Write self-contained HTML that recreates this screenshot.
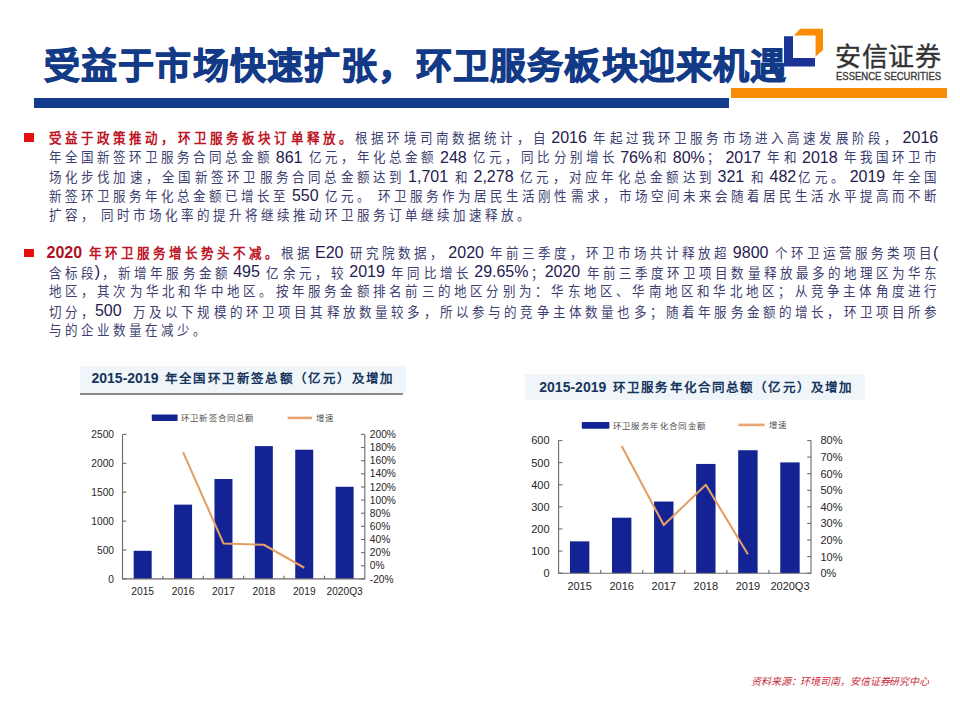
<!DOCTYPE html>
<html lang="zh-CN"><head><meta charset="utf-8">
<style>
html,body{margin:0;padding:0}
body{width:960px;height:720px;background:#fff;position:relative;overflow:hidden;font-family:"Liberation Sans",sans-serif;font-kerning:none}
.a{position:absolute;white-space:nowrap}
.k{display:inline-block;text-align:center}
.t{white-space:pre}
#title{left:43.2px;top:43px;font-size:36px;font-weight:bold;-webkit-text-stroke:1.1px #133a87;color:#133a87;line-height:48px;display:flex}
#bluebar{left:34px;top:98px;width:695px;height:10px;background:#133d8c}
#orangebar{left:731px;top:88px;width:216px;height:9.7px;background:#f98d06}
#logocn{left:835px;top:41px;font-size:26px;line-height:32px;color:#333;-webkit-text-stroke:0.4px #333;display:flex}
#logoen{left:836px;top:69.6px;font-size:10.5px;line-height:12px;font-weight:normal;-webkit-text-stroke:0.35px #3a3a3a;transform:scaleX(0.905);color:#3a3a3a;transform-origin:0 0}
.ln{position:absolute;left:46.5px;width:892px;height:20px;display:flex;justify-content:space-between;align-items:baseline;font-size:16px;line-height:20px;color:#1f2050;white-space:nowrap}
.ln .c{display:block;width:16px;text-align:center;font-size:13.6px;position:relative;top:0.4px;transform:scaleX(0.92);color:#3d4070}
.ln.lst{justify-content:flex-start}
.ln.p1 .c{top:-0.5px}
.ln.lst .c{width:16.02px}
.ln .r{color:#b20f22;font-weight:bold}
.ln .c.r{color:#bd1426}
.bul{position:absolute;left:24px;width:10px;height:8.6px;background:#e50f0f}
.ctb{position:absolute;background:#eff5f8}
.ctt{position:absolute;display:flex;align-items:baseline;font-size:14px;line-height:18px;font-weight:bold;color:#17365d;white-space:nowrap}
.ctt .k{font-size:12.5px}
.leg{position:absolute;display:flex;font-size:8.4px;line-height:11px;color:#505050;white-space:nowrap}
#foot{left:751px;top:675px;font-size:10px;line-height:13px;font-style:italic;color:#c72a3c;display:flex}
svg{position:absolute;left:0;top:0}
svg text{font-family:"Liberation Sans",sans-serif}
</style></head><body>
<div class="a" id="title"><span class="k" style="width:37.20px">受</span><span class="k" style="width:37.20px">益</span><span class="k" style="width:37.20px">于</span><span class="k" style="width:37.20px">市</span><span class="k" style="width:37.20px">场</span><span class="k" style="width:37.20px">快</span><span class="k" style="width:37.20px">速</span><span class="k" style="width:37.20px">扩</span><span class="k" style="width:37.20px">张</span><span class="k" style="width:37.20px">，</span><span class="k" style="width:37.20px">环</span><span class="k" style="width:37.20px">卫</span><span class="k" style="width:37.20px">服</span><span class="k" style="width:37.20px">务</span><span class="k" style="width:37.20px">板</span><span class="k" style="width:37.20px">块</span><span class="k" style="width:37.20px">迎</span><span class="k" style="width:37.20px">来</span><span class="k" style="width:37.20px">机</span><span class="k" style="width:37.20px">遇</span></div>
<div class="a" id="bluebar"></div>
<div class="a" id="orangebar"></div>
<svg width="960" height="720" viewBox="0 0 960 720">
<polygon points="784,36.3 793,36.3 793,58 815,58 815,66.6 784,66.6" fill="#1c3396"/>
<polygon points="793.8,35.6 800.3,28.8 823,28.8 823,50 815.6,56.6 815.6,35.6" fill="#f98d06"/>
<rect x="133.69" y="550.81" width="18.00" height="28.09" fill="#132394"/>
<rect x="174.07" y="504.63" width="18.00" height="74.27" fill="#132394"/>
<rect x="214.46" y="479.02" width="18.00" height="99.88" fill="#132394"/>
<rect x="254.84" y="446.13" width="18.00" height="132.77" fill="#132394"/>
<rect x="295.23" y="449.72" width="18.00" height="129.18" fill="#132394"/>
<rect x="335.61" y="486.77" width="18.00" height="92.13" fill="#132394"/>
<path d="M122.50 434.40V578.90H364.80V434.40" fill="none" stroke="#6b6b6b" stroke-width="1.1"/>
<path d="M122.50 578.90h3.8" stroke="#6b6b6b" stroke-width="1.1"/>
<text x="114.00" y="582.57" font-size="10.2" text-anchor="end" fill="#262626">0</text>
<path d="M122.50 550.00h3.8" stroke="#6b6b6b" stroke-width="1.1"/>
<text x="114.00" y="553.67" font-size="10.2" text-anchor="end" fill="#262626">500</text>
<path d="M122.50 521.10h3.8" stroke="#6b6b6b" stroke-width="1.1"/>
<text x="114.00" y="524.77" font-size="10.2" text-anchor="end" fill="#262626">1000</text>
<path d="M122.50 492.20h3.8" stroke="#6b6b6b" stroke-width="1.1"/>
<text x="114.00" y="495.87" font-size="10.2" text-anchor="end" fill="#262626">1500</text>
<path d="M122.50 463.30h3.8" stroke="#6b6b6b" stroke-width="1.1"/>
<text x="114.00" y="466.97" font-size="10.2" text-anchor="end" fill="#262626">2000</text>
<path d="M122.50 434.40h3.8" stroke="#6b6b6b" stroke-width="1.1"/>
<text x="114.00" y="438.07" font-size="10.2" text-anchor="end" fill="#262626">2500</text>
<path d="M364.80 578.90h-3.8" stroke="#6b6b6b" stroke-width="1.1"/>
<text x="369.80" y="582.57" font-size="10.2" fill="#262626">-20%</text>
<path d="M364.80 565.76h-3.8" stroke="#6b6b6b" stroke-width="1.1"/>
<text x="369.80" y="569.44" font-size="10.2" fill="#262626">0%</text>
<path d="M364.80 552.63h-3.8" stroke="#6b6b6b" stroke-width="1.1"/>
<text x="369.80" y="556.30" font-size="10.2" fill="#262626">20%</text>
<path d="M364.80 539.49h-3.8" stroke="#6b6b6b" stroke-width="1.1"/>
<text x="369.80" y="543.16" font-size="10.2" fill="#262626">40%</text>
<path d="M364.80 526.35h-3.8" stroke="#6b6b6b" stroke-width="1.1"/>
<text x="369.80" y="530.03" font-size="10.2" fill="#262626">60%</text>
<path d="M364.80 513.22h-3.8" stroke="#6b6b6b" stroke-width="1.1"/>
<text x="369.80" y="516.89" font-size="10.2" fill="#262626">80%</text>
<path d="M364.80 500.08h-3.8" stroke="#6b6b6b" stroke-width="1.1"/>
<text x="369.80" y="503.75" font-size="10.2" fill="#262626">100%</text>
<path d="M364.80 486.95h-3.8" stroke="#6b6b6b" stroke-width="1.1"/>
<text x="369.80" y="490.62" font-size="10.2" fill="#262626">120%</text>
<path d="M364.80 473.81h-3.8" stroke="#6b6b6b" stroke-width="1.1"/>
<text x="369.80" y="477.48" font-size="10.2" fill="#262626">140%</text>
<path d="M364.80 460.67h-3.8" stroke="#6b6b6b" stroke-width="1.1"/>
<text x="369.80" y="464.34" font-size="10.2" fill="#262626">160%</text>
<path d="M364.80 447.54h-3.8" stroke="#6b6b6b" stroke-width="1.1"/>
<text x="369.80" y="451.21" font-size="10.2" fill="#262626">180%</text>
<path d="M364.80 434.40h-3.8" stroke="#6b6b6b" stroke-width="1.1"/>
<text x="369.80" y="438.07" font-size="10.2" fill="#262626">200%</text>
<path d="M162.88 578.90v-3.2" stroke="#6b6b6b" stroke-width="1.1"/>
<path d="M203.27 578.90v-3.2" stroke="#6b6b6b" stroke-width="1.1"/>
<path d="M243.65 578.90v-3.2" stroke="#6b6b6b" stroke-width="1.1"/>
<path d="M284.03 578.90v-3.2" stroke="#6b6b6b" stroke-width="1.1"/>
<path d="M324.42 578.90v-3.2" stroke="#6b6b6b" stroke-width="1.1"/>
<text x="142.69" y="594.60" font-size="10.2" text-anchor="middle" fill="#262626">2015</text>
<text x="183.07" y="594.60" font-size="10.2" text-anchor="middle" fill="#262626">2016</text>
<text x="223.46" y="594.60" font-size="10.2" text-anchor="middle" fill="#262626">2017</text>
<text x="263.84" y="594.60" font-size="10.2" text-anchor="middle" fill="#262626">2018</text>
<text x="304.23" y="594.60" font-size="10.2" text-anchor="middle" fill="#262626">2019</text>
<text x="344.61" y="594.60" font-size="10.2" text-anchor="middle" fill="#262626">2020Q3</text>
<polyline points="183.07,452.13 223.46,543.43 263.84,544.75 304.23,567.73" fill="none" stroke="#e2a067" stroke-width="2.1" stroke-linejoin="round"/>
<rect x="569.93" y="541.35" width="19.40" height="31.85" fill="#132394"/>
<rect x="612.00" y="517.69" width="19.40" height="55.51" fill="#132394"/>
<rect x="654.07" y="501.54" width="19.40" height="71.66" fill="#132394"/>
<rect x="696.13" y="463.94" width="19.40" height="109.26" fill="#132394"/>
<rect x="738.20" y="450.23" width="19.40" height="122.97" fill="#132394"/>
<rect x="780.27" y="462.40" width="19.40" height="110.80" fill="#132394"/>
<path d="M558.60 440.50V573.20H811.00V440.50" fill="none" stroke="#6b6b6b" stroke-width="1.1"/>
<path d="M558.60 573.20h3.8" stroke="#6b6b6b" stroke-width="1.1"/>
<text x="549.60" y="577.16" font-size="11.0" text-anchor="end" fill="#262626">0</text>
<path d="M558.60 551.08h3.8" stroke="#6b6b6b" stroke-width="1.1"/>
<text x="549.60" y="555.04" font-size="11.0" text-anchor="end" fill="#262626">100</text>
<path d="M558.60 528.97h3.8" stroke="#6b6b6b" stroke-width="1.1"/>
<text x="549.60" y="532.93" font-size="11.0" text-anchor="end" fill="#262626">200</text>
<path d="M558.60 506.85h3.8" stroke="#6b6b6b" stroke-width="1.1"/>
<text x="549.60" y="510.81" font-size="11.0" text-anchor="end" fill="#262626">300</text>
<path d="M558.60 484.73h3.8" stroke="#6b6b6b" stroke-width="1.1"/>
<text x="549.60" y="488.69" font-size="11.0" text-anchor="end" fill="#262626">400</text>
<path d="M558.60 462.62h3.8" stroke="#6b6b6b" stroke-width="1.1"/>
<text x="549.60" y="466.58" font-size="11.0" text-anchor="end" fill="#262626">500</text>
<path d="M558.60 440.50h3.8" stroke="#6b6b6b" stroke-width="1.1"/>
<text x="549.60" y="444.46" font-size="11.0" text-anchor="end" fill="#262626">600</text>
<path d="M811.00 573.20h-3.8" stroke="#6b6b6b" stroke-width="1.1"/>
<text x="820.50" y="577.16" font-size="11.0" fill="#262626">0%</text>
<path d="M811.00 556.61h-3.8" stroke="#6b6b6b" stroke-width="1.1"/>
<text x="820.50" y="560.57" font-size="11.0" fill="#262626">10%</text>
<path d="M811.00 540.03h-3.8" stroke="#6b6b6b" stroke-width="1.1"/>
<text x="820.50" y="543.99" font-size="11.0" fill="#262626">20%</text>
<path d="M811.00 523.44h-3.8" stroke="#6b6b6b" stroke-width="1.1"/>
<text x="820.50" y="527.40" font-size="11.0" fill="#262626">30%</text>
<path d="M811.00 506.85h-3.8" stroke="#6b6b6b" stroke-width="1.1"/>
<text x="820.50" y="510.81" font-size="11.0" fill="#262626">40%</text>
<path d="M811.00 490.26h-3.8" stroke="#6b6b6b" stroke-width="1.1"/>
<text x="820.50" y="494.22" font-size="11.0" fill="#262626">50%</text>
<path d="M811.00 473.68h-3.8" stroke="#6b6b6b" stroke-width="1.1"/>
<text x="820.50" y="477.63" font-size="11.0" fill="#262626">60%</text>
<path d="M811.00 457.09h-3.8" stroke="#6b6b6b" stroke-width="1.1"/>
<text x="820.50" y="461.05" font-size="11.0" fill="#262626">70%</text>
<path d="M811.00 440.50h-3.8" stroke="#6b6b6b" stroke-width="1.1"/>
<text x="820.50" y="444.46" font-size="11.0" fill="#262626">80%</text>
<path d="M600.67 573.20v-3.2" stroke="#6b6b6b" stroke-width="1.1"/>
<path d="M642.73 573.20v-3.2" stroke="#6b6b6b" stroke-width="1.1"/>
<path d="M684.80 573.20v-3.2" stroke="#6b6b6b" stroke-width="1.1"/>
<path d="M726.87 573.20v-3.2" stroke="#6b6b6b" stroke-width="1.1"/>
<path d="M768.93 573.20v-3.2" stroke="#6b6b6b" stroke-width="1.1"/>
<text x="579.63" y="590.20" font-size="11.0" text-anchor="middle" fill="#262626">2015</text>
<text x="621.70" y="590.20" font-size="11.0" text-anchor="middle" fill="#262626">2016</text>
<text x="663.77" y="590.20" font-size="11.0" text-anchor="middle" fill="#262626">2017</text>
<text x="705.83" y="590.20" font-size="11.0" text-anchor="middle" fill="#262626">2018</text>
<text x="747.90" y="590.20" font-size="11.0" text-anchor="middle" fill="#262626">2019</text>
<text x="789.97" y="590.20" font-size="11.0" text-anchor="middle" fill="#262626">2020Q3</text>
<polyline points="621.70,445.97 663.77,525.10 705.83,484.79 747.90,554.29" fill="none" stroke="#e2a067" stroke-width="2.1" stroke-linejoin="round"/>
<rect x="151.8" y="414.5" width="25.8" height="6.6" rx="0.8" fill="#132394"/>
<path d="M287.6 417.9H312" stroke="#eaa572" stroke-width="2.6"/>
<rect x="581.8" y="422" width="27.6" height="6.8" rx="0.8" fill="#132394"/>
<path d="M738.4 424.9H764.6" stroke="#eaa572" stroke-width="2.6"/>
</svg>
<div class="a" id="logocn"><span class="k" style="width:26.60px">安</span><span class="k" style="width:26.60px">信</span><span class="k" style="width:26.60px">证</span><span class="k" style="width:26.60px">券</span></div>
<div class="a" id="logoen">ESSENCE SECURITIES</div>

<div class="bul" style="top:133.2px"></div>
<div class="bul" style="top:248.6px"></div>
<div class="ln p1" style="top:128.20px"><span class="c r">受</span><span class="c r">益</span><span class="c r">于</span><span class="c r">政</span><span class="c r">策</span><span class="c r">推</span><span class="c r">动</span><span class="c r">，</span><span class="c r">环</span><span class="c r">卫</span><span class="c r">服</span><span class="c r">务</span><span class="c r">板</span><span class="c r">块</span><span class="c r">订</span><span class="c r">单</span><span class="c r">释</span><span class="c r">放</span><span class="c r">。</span><span class="c">根</span><span class="c">据</span><span class="c">环</span><span class="c">境</span><span class="c">司</span><span class="c">南</span><span class="c">数</span><span class="c">据</span><span class="c">统</span><span class="c">计</span><span class="c">，</span><span class="c">自</span><span class="t"> 2016 </span><span class="c">年</span><span class="c">起</span><span class="c">过</span><span class="c">我</span><span class="c">环</span><span class="c">卫</span><span class="c">服</span><span class="c">务</span><span class="c">市</span><span class="c">场</span><span class="c">进</span><span class="c">入</span><span class="c">高</span><span class="c">速</span><span class="c">发</span><span class="c">展</span><span class="c">阶</span><span class="c">段</span><span class="c">，</span><span class="t"> 2016</span></div>
<div class="ln p1" style="top:147.60px"><span class="c">年</span><span class="c">全</span><span class="c">国</span><span class="c">新</span><span class="c">签</span><span class="c">环</span><span class="c">卫</span><span class="c">服</span><span class="c">务</span><span class="c">合</span><span class="c">同</span><span class="c">总</span><span class="c">金</span><span class="c">额</span><span class="t"> 861 </span><span class="c">亿</span><span class="c">元</span><span class="c">，</span><span class="c">年</span><span class="c">化</span><span class="c">总</span><span class="c">金</span><span class="c">额</span><span class="t"> 248 </span><span class="c">亿</span><span class="c">元</span><span class="c">，</span><span class="c">同</span><span class="c">比</span><span class="c">分</span><span class="c">别</span><span class="c">增</span><span class="c">长</span><span class="t"> 76%</span><span class="c">和</span><span class="t"> 80%</span><span class="c">；</span><span class="t"> 2017 </span><span class="c">年</span><span class="c">和</span><span class="t"> 2018 </span><span class="c">年</span><span class="c">我</span><span class="c">国</span><span class="c">环</span><span class="c">卫</span><span class="c">市</span></div>
<div class="ln p1" style="top:167.00px"><span class="c">场</span><span class="c">化</span><span class="c">步</span><span class="c">伐</span><span class="c">加</span><span class="c">速</span><span class="c">，</span><span class="c">全</span><span class="c">国</span><span class="c">新</span><span class="c">签</span><span class="c">环</span><span class="c">卫</span><span class="c">服</span><span class="c">务</span><span class="c">合</span><span class="c">同</span><span class="c">总</span><span class="c">金</span><span class="c">额</span><span class="c">达</span><span class="c">到</span><span class="t"> 1,701 </span><span class="c">和</span><span class="t"> 2,278 </span><span class="c">亿</span><span class="c">元</span><span class="c">，</span><span class="c">对</span><span class="c">应</span><span class="c">年</span><span class="c">化</span><span class="c">总</span><span class="c">金</span><span class="c">额</span><span class="c">达</span><span class="c">到</span><span class="t"> 321 </span><span class="c">和</span><span class="t"> 482</span><span class="c">亿</span><span class="c">元</span><span class="c">。</span><span class="t"> 2019 </span><span class="c">年</span><span class="c">全</span><span class="c">国</span></div>
<div class="ln p1" style="top:186.40px"><span class="c">新</span><span class="c">签</span><span class="c">环</span><span class="c">卫</span><span class="c">服</span><span class="c">务</span><span class="c">年</span><span class="c">化</span><span class="c">总</span><span class="c">金</span><span class="c">额</span><span class="c">已</span><span class="c">增</span><span class="c">长</span><span class="c">至</span><span class="t"> 550 </span><span class="c">亿</span><span class="c">元</span><span class="c">。</span><span class="t"> </span><span class="c">环</span><span class="c">卫</span><span class="c">服</span><span class="c">务</span><span class="c">作</span><span class="c">为</span><span class="c">居</span><span class="c">民</span><span class="c">生</span><span class="c">活</span><span class="c">刚</span><span class="c">性</span><span class="c">需</span><span class="c">求</span><span class="c">，</span><span class="c">市</span><span class="c">场</span><span class="c">空</span><span class="c">间</span><span class="c">未</span><span class="c">来</span><span class="c">会</span><span class="c">随</span><span class="c">着</span><span class="c">居</span><span class="c">民</span><span class="c">生</span><span class="c">活</span><span class="c">水</span><span class="c">平</span><span class="c">提</span><span class="c">高</span><span class="c">而</span><span class="c">不</span><span class="c">断</span></div>
<div class="ln p1 lst" style="top:205.80px"><span class="c">扩</span><span class="c">容</span><span class="c">，</span><span class="t"> </span><span class="c">同</span><span class="c">时</span><span class="c">市</span><span class="c">场</span><span class="c">化</span><span class="c">率</span><span class="c">的</span><span class="c">提</span><span class="c">升</span><span class="c">将</span><span class="c">继</span><span class="c">续</span><span class="c">推</span><span class="c">动</span><span class="c">环</span><span class="c">卫</span><span class="c">服</span><span class="c">务</span><span class="c">订</span><span class="c">单</span><span class="c">继</span><span class="c">续</span><span class="c">加</span><span class="c">速</span><span class="c">释</span><span class="c">放</span><span class="c">。</span></div>
<div class="ln" style="top:243.00px"><span class="t r">2020 </span><span class="c r">年</span><span class="c r">环</span><span class="c r">卫</span><span class="c r">服</span><span class="c r">务</span><span class="c r">增</span><span class="c r">长</span><span class="c r">势</span><span class="c r">头</span><span class="c r">不</span><span class="c r">减</span><span class="c r">。</span><span class="c">根</span><span class="c">据</span><span class="t"> E20 </span><span class="c">研</span><span class="c">究</span><span class="c">院</span><span class="c">数</span><span class="c">据</span><span class="c">，</span><span class="t"> 2020 </span><span class="c">年</span><span class="c">前</span><span class="c">三</span><span class="c">季</span><span class="c">度</span><span class="c">，</span><span class="c">环</span><span class="c">卫</span><span class="c">市</span><span class="c">场</span><span class="c">共</span><span class="c">计</span><span class="c">释</span><span class="c">放</span><span class="c">超</span><span class="t"> 9800 </span><span class="c">个</span><span class="c">环</span><span class="c">卫</span><span class="c">运</span><span class="c">营</span><span class="c">服</span><span class="c">务</span><span class="c">类</span><span class="c">项</span><span class="c">目</span><span class="t">(</span></div>
<div class="ln" style="top:262.40px"><span class="c">含</span><span class="c">标</span><span class="c">段</span><span class="t">)</span><span class="c">，</span><span class="c">新</span><span class="c">增</span><span class="c">年</span><span class="c">服</span><span class="c">务</span><span class="c">金</span><span class="c">额</span><span class="t"> 495 </span><span class="c">亿</span><span class="c">余</span><span class="c">元</span><span class="c">，</span><span class="c">较</span><span class="t"> 2019 </span><span class="c">年</span><span class="c">同</span><span class="c">比</span><span class="c">增</span><span class="c">长</span><span class="t"> 29.65%</span><span class="c">；</span><span class="t">2020 </span><span class="c">年</span><span class="c">前</span><span class="c">三</span><span class="c">季</span><span class="c">度</span><span class="c">环</span><span class="c">卫</span><span class="c">项</span><span class="c">目</span><span class="c">数</span><span class="c">量</span><span class="c">释</span><span class="c">放</span><span class="c">最</span><span class="c">多</span><span class="c">的</span><span class="c">地</span><span class="c">理</span><span class="c">区</span><span class="c">为</span><span class="c">华</span><span class="c">东</span></div>
<div class="ln" style="top:281.80px"><span class="c">地</span><span class="c">区</span><span class="c">，</span><span class="c">其</span><span class="c">次</span><span class="c">为</span><span class="c">华</span><span class="c">北</span><span class="c">和</span><span class="c">华</span><span class="c">中</span><span class="c">地</span><span class="c">区</span><span class="c">。</span><span class="c">按</span><span class="c">年</span><span class="c">服</span><span class="c">务</span><span class="c">金</span><span class="c">额</span><span class="c">排</span><span class="c">名</span><span class="c">前</span><span class="c">三</span><span class="c">的</span><span class="c">地</span><span class="c">区</span><span class="c">分</span><span class="c">别</span><span class="c">为</span><span class="c">：</span><span class="c">华</span><span class="c">东</span><span class="c">地</span><span class="c">区</span><span class="c">、</span><span class="c">华</span><span class="c">南</span><span class="c">地</span><span class="c">区</span><span class="c">和</span><span class="c">华</span><span class="c">北</span><span class="c">地</span><span class="c">区</span><span class="c">；</span><span class="c">从</span><span class="c">竞</span><span class="c">争</span><span class="c">主</span><span class="c">体</span><span class="c">角</span><span class="c">度</span><span class="c">进</span><span class="c">行</span></div>
<div class="ln" style="top:301.20px"><span class="c">切</span><span class="c">分</span><span class="c">，</span><span class="t">500  </span><span class="c">万</span><span class="c">及</span><span class="c">以</span><span class="c">下</span><span class="c">规</span><span class="c">模</span><span class="c">的</span><span class="c">环</span><span class="c">卫</span><span class="c">项</span><span class="c">目</span><span class="c">其</span><span class="c">释</span><span class="c">放</span><span class="c">数</span><span class="c">量</span><span class="c">较</span><span class="c">多</span><span class="c">，</span><span class="c">所</span><span class="c">以</span><span class="c">参</span><span class="c">与</span><span class="c">的</span><span class="c">竞</span><span class="c">争</span><span class="c">主</span><span class="c">体</span><span class="c">数</span><span class="c">量</span><span class="c">也</span><span class="c">多</span><span class="c">；</span><span class="c">随</span><span class="c">着</span><span class="c">年</span><span class="c">服</span><span class="c">务</span><span class="c">金</span><span class="c">额</span><span class="c">的</span><span class="c">增</span><span class="c">长</span><span class="c">，</span><span class="c">环</span><span class="c">卫</span><span class="c">项</span><span class="c">目</span><span class="c">所</span><span class="c">参</span></div>
<div class="ln lst" style="top:320.60px"><span class="c">与</span><span class="c">的</span><span class="c">企</span><span class="c">业</span><span class="c">数</span><span class="c">量</span><span class="c">在</span><span class="c">减</span><span class="c">少</span><span class="c">。</span></div>

<div class="ctb" style="left:79.7px;top:365.6px;width:326px;height:27.4px"></div>
<div class="a" style="left:79.7px;top:393px;width:323.3px;height:2px;background:#8a8a8a"></div>
<div class="ctt" style="left:91.5px;top:368.5px"><span class="t">2015-2019 </span><span class="k" style="width:1.55px"></span><span class="k" style="width:14.40px">年</span><span class="k" style="width:14.40px">全</span><span class="k" style="width:14.40px">国</span><span class="k" style="width:14.40px">环</span><span class="k" style="width:14.40px">卫</span><span class="k" style="width:14.40px">新</span><span class="k" style="width:14.40px">签</span><span class="k" style="width:14.40px">总</span><span class="k" style="width:14.40px">额</span><span class="k" style="width:14.40px">（</span><span class="k" style="width:14.40px">亿</span><span class="k" style="width:14.40px">元</span><span class="k" style="width:14.40px">）</span><span class="k" style="width:14.40px">及</span><span class="k" style="width:14.40px">增</span><span class="k" style="width:14.40px">加</span></div>
<div class="ctb" style="left:525.3px;top:374px;width:340px;height:25.8px"></div>
<div class="ctt" style="left:539.3px;top:377.8px"><span class="t">2015-2019 </span><span class="k" style="width:2.3px"></span><span class="k" style="width:14.14px">环</span><span class="k" style="width:14.14px">卫</span><span class="k" style="width:14.14px">服</span><span class="k" style="width:14.14px">务</span><span class="k" style="width:14.14px">年</span><span class="k" style="width:14.14px">化</span><span class="k" style="width:14.14px">合</span><span class="k" style="width:14.14px">同</span><span class="k" style="width:14.14px">总</span><span class="k" style="width:14.14px">额</span><span class="k" style="width:14.14px">（</span><span class="k" style="width:14.14px">亿</span><span class="k" style="width:14.14px">元</span><span class="k" style="width:14.14px">）</span><span class="k" style="width:14.14px">及</span><span class="k" style="width:14.14px">增</span><span class="k" style="width:14.14px">加</span></div>

<div class="leg" style="left:180.5px;top:413.2px"><span class="k" style="width:9.20px">环</span><span class="k" style="width:9.20px">卫</span><span class="k" style="width:9.20px">新</span><span class="k" style="width:9.20px">签</span><span class="k" style="width:9.20px">合</span><span class="k" style="width:9.20px">同</span><span class="k" style="width:9.20px">总</span><span class="k" style="width:9.20px">额</span></div>
<div class="leg" style="left:315px;top:413.2px"><span class="k" style="width:9.00px">增</span><span class="k" style="width:9.00px">速</span></div>
<div class="leg" style="left:612px;top:420.5px"><span class="k" style="width:9.40px">环</span><span class="k" style="width:9.40px">卫</span><span class="k" style="width:9.40px">服</span><span class="k" style="width:9.40px">务</span><span class="k" style="width:9.40px">年</span><span class="k" style="width:9.40px">化</span><span class="k" style="width:9.40px">合</span><span class="k" style="width:9.40px">同</span><span class="k" style="width:9.40px">金</span><span class="k" style="width:9.40px">额</span></div>
<div class="leg" style="left:768px;top:420.2px"><span class="k" style="width:9.00px">增</span><span class="k" style="width:9.00px">速</span></div>

<div class="a" id="foot"><span class="k" style="width:9.90px">资</span><span class="k" style="width:9.90px">料</span><span class="k" style="width:9.90px">来</span><span class="k" style="width:9.90px">源</span><span class="k" style="width:9.90px">：</span><span class="k" style="width:9.90px">环</span><span class="k" style="width:9.90px">境</span><span class="k" style="width:9.90px">司</span><span class="k" style="width:9.90px">南</span><span class="k" style="width:9.90px">，</span><span class="k" style="width:9.90px">安</span><span class="k" style="width:9.90px">信</span><span class="k" style="width:9.90px">证</span><span class="k" style="width:9.90px">券</span><span class="k" style="width:9.90px">研</span><span class="k" style="width:9.90px">究</span><span class="k" style="width:9.90px">中</span><span class="k" style="width:9.90px">心</span></div>
</body></html>
